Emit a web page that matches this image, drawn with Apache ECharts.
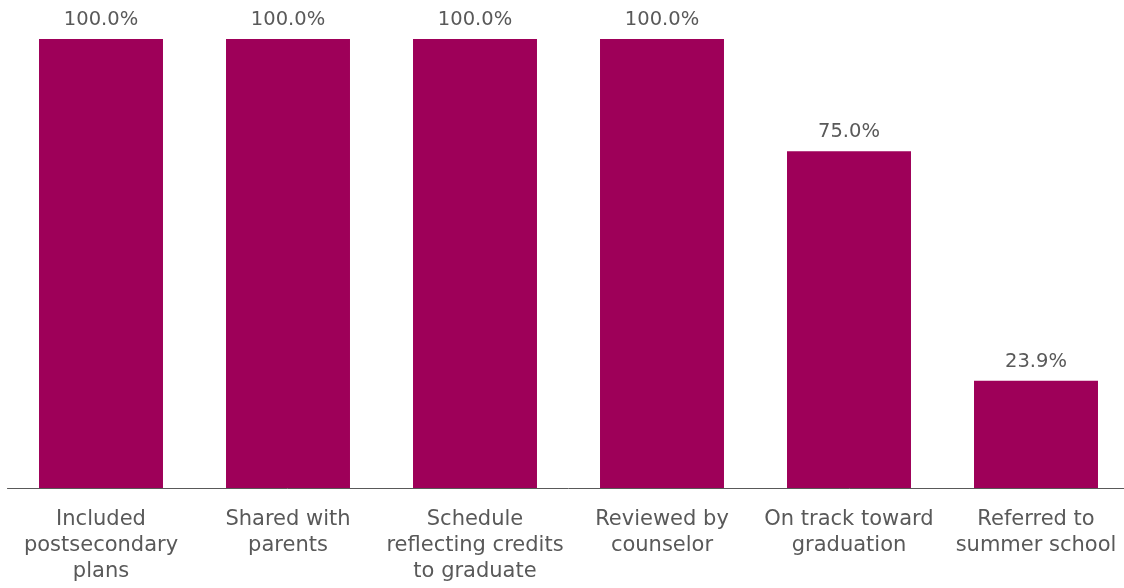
<!DOCTYPE html>
<html><head><meta charset="utf-8">
<script src="https://cdn.jsdelivr.net/npm/echarts@6/dist/echarts.min.js"></script>
<style>html,body{margin:0;padding:0;background:#fff;overflow:hidden}#c{width:1136px;height:588px}</style>
</head><body><div id="c"></div>
<script>
const categories = ["Included\npostsecondary\nplans","Shared with\nparents","Schedule\nreflecting credits\nto graduate","Reviewed by\ncounselor","On track toward\ngraduation","Referred to\nsummer school"];
const values = [100.0, 100.0, 100.0, 100.0, 75.0, 23.9];
const chart = echarts.init(document.getElementById('c'));
chart.setOption({
  animation:false,
  grid:{left:7.5, top:39, width:1122, height:449, containLabel:false},
  xAxis:{type:'category', data:categories,
    axisLine:{lineStyle:{color:'#595959', width:1}}, axisTick:{show:false},
    axisLabel:{interval:0, color:'#595959', fontFamily:'DejaVu Sans', fontSize:21, lineHeight:26, margin:19}},
  yAxis:{type:'value', min:0, max:100, show:false, splitLine:{show:false}},
  series:[{type:'bar', data:values, barWidth:'66.3%', itemStyle:{color:'#9E0059'},
    label:{show:true, position:'top', distance:9, color:'#595959', fontFamily:'DejaVu Sans', fontSize:19.5,
      formatter:p=>p.value.toFixed(1)+'%'}}]
});
</script></body></html>
